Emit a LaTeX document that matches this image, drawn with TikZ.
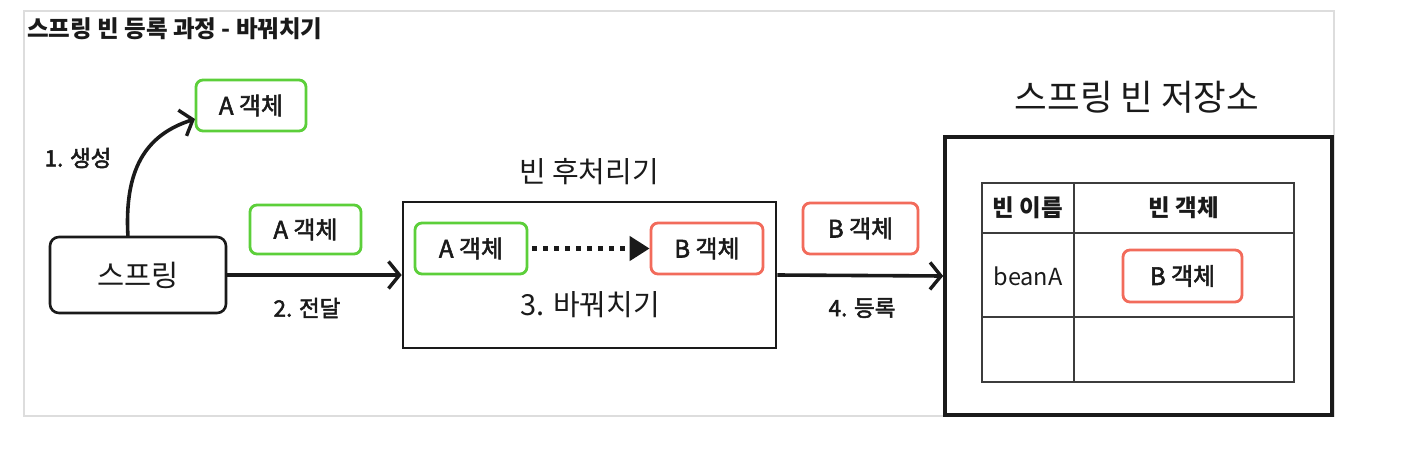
\documentclass[tikz,border=0pt]{standalone}
\usepackage{fontspec}
\setmainfont{Noto Sans CJK KR}
\newfontface\medfont{Noto Sans CJK KR}[FakeBold=2.2]
\usetikzlibrary{arrows.meta,calc}
\definecolor{gframe}{HTML}{DDDDDD}
\definecolor{sgreen}{HTML}{5CCF3A}
\definecolor{sred}{HTML}{F26B5B}
\definecolor{ink}{HTML}{1A1A1A}
\tikzset{
  fs/.style={font=\fontsize{#1}{#1}\selectfont},
  fsm/.style={font=\fontsize{#1}{#1}\selectfont\medfont},
  objA/.style={draw=sgreen, line width=2.8pt, rounded corners=7pt, text=ink, fsm=24, minimum width=110pt, minimum height=51pt, inner sep=0pt},
  objB/.style={draw=sred, line width=2.8pt, rounded corners=7pt, text=ink, fsm=24, minimum width=114pt, minimum height=51pt, inner sep=0pt},
  lbl/.style={text=ink, fsm=22.5, inner sep=0pt},
  bigbox/.style={draw=ink, line width=2.6pt, inner sep=0pt},
  flow/.style={draw=ink, line width=3.6pt, -{Straight Barb[length=11pt,width=27pt,line width=3.4pt]}},
  swap/.style={draw=ink, line width=4.5pt, dash pattern=on 5pt off 6pt, -{Triangle[length=20pt,width=24pt]}},
  tline/.style={draw=ink!85, line width=1.2pt},
}
\begin{document}
\begin{tikzpicture}[x=1pt,y=-1pt]
\useasboundingbox (0,0) rectangle (1406,458);
\fill[white] (0,0) rectangle (1406,458);
\draw[gframe, line width=2.2pt] (24,11) rectangle (1334,416);
\node[anchor=west, text=ink, inner sep=0pt, font=\fontsize{23.5}{23.5}\selectfont\bfseries] (title) at (27,29) {스프링 빈 등록 과정 - 바꿔치기};

% spring
\node[draw=ink, line width=2.6pt, rounded corners=9pt, minimum width=176pt, minimum height=76pt, inner sep=0pt, text=ink, fs=29.5] (spring) at (138,275) {스프링};
\node[objA] (topA) at (251,105.5) {A 객체};
\coordinate (cstart) at (128,237);
\coordinate (cend) at (195,119);
\draw[flow] (cstart) .. controls (124,170) and (145,135) .. (cend);
\node[lbl] (l1) at (78,158) {1. 생성};

% transfer
\node[objA, minimum width=111pt, minimum height=49pt] (midA) at (305.5,229.5) {A 객체};
\node[bigbox, minimum width=373pt, minimum height=146pt] (pp) at (589.5,275) {};
\draw[flow] (spring.east) -- (pp.west);
\node[lbl] (l2) at (307,308) {2. 전달};

% post processor
\node[text=ink, fs=29, inner sep=0pt] (pptitle) at (589,172) {빈 후처리기};
\node[objA, minimum width=112pt] (inA) at (471,248.5) {A 객체};
\node[objB, minimum width=112pt] (inB) at (707,248.5) {B 객체};
\draw[swap] (inA.east) ++(4,0) coordinate (sw1) (sw1) -- (inB.west);
\node[text=ink, fs=29, inner sep=0pt] (l3) at (590,305) {3. 바꿔치기};

% register
\node[objB, minimum width=115pt] (outB) at (860.5,228.5) {B 객체};
\node[draw=ink, line width=3.6pt, minimum width=387pt, minimum height=278pt, inner sep=0pt] (store) at (1138.5,276) {};
\draw[flow] (pp.east) -- (store.west);
\node[lbl] (l4) at (862,308) {4. 등록};
\node[text=ink, fs=35.5, inner sep=0pt] (stitle) at (1137,97) {스프링 빈 저장소};

% table
\draw[tline] (982,183) rectangle (1294,382);
\draw[tline] (1074,183) -- (1074,382);
\draw[tline] (982,233) -- (1294,233);
\draw[tline] (982,317) -- (1294,317);
\node[text=ink, inner sep=0pt, font=\fontsize{23.5}{23.5}\selectfont\bfseries] (h1) at (1028,208) {빈 이름};
\node[text=ink, inner sep=0pt, font=\fontsize{23.5}{23.5}\selectfont\bfseries] (h2) at (1184,208) {빈 객체};
\node[text=ink, fs=23.5, inner sep=0pt] (beanA) at (1028,276) {beanA};
\node[objB, minimum width=119pt, minimum height=52pt] (tB) at (1182.5,276) {B 객체};
\end{tikzpicture}
\end{document}
